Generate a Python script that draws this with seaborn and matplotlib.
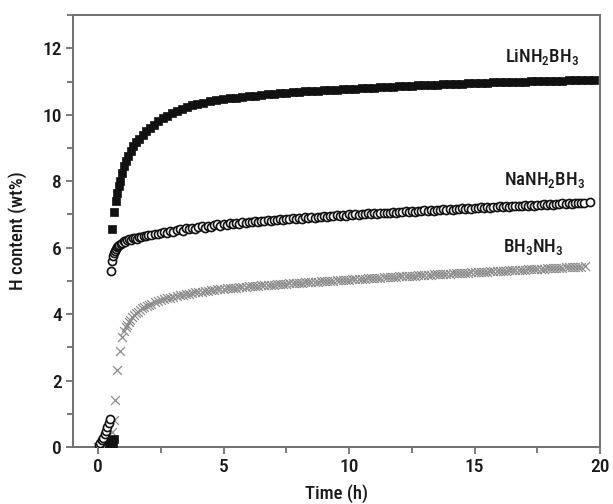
import matplotlib
matplotlib.use("Agg")
import matplotlib.pyplot as plt
from matplotlib.ticker import MultipleLocator
from matplotlib import font_manager
import seaborn as sns
import pandas as pd

# ---------------- data ----------------
li_time = [0.45, 0.50, 0.55, 0.60, 0.62,
           0.56, 0.64, 0.70, 0.76, 0.82, 0.88, 0.96, 1.04, 1.12, 1.20, 1.30, 1.40,
           1.52, 1.64, 1.78, 1.92, 2.06, 2.22, 2.40, 2.58, 2.76, 2.96, 3.16, 3.36,
           3.56, 3.76, 3.96, 4.20, 4.45, 4.70, 4.96, 5.25, 5.50, 5.75, 6.00, 6.25,
           6.50, 6.75, 7.00, 7.25, 7.50, 7.75, 8.00, 8.25, 8.50, 8.75, 9.00, 9.25,
           9.50, 9.75, 10.00, 10.25, 10.50, 10.75, 11.00, 11.25, 11.50, 11.75, 12.00,
           12.25, 12.50, 12.75, 13.00, 13.25, 13.50, 13.75, 14.00, 14.25, 14.50,
           14.75, 15.00, 15.25, 15.50, 15.75, 16.00, 16.25, 16.50, 16.75, 17.00,
           17.25, 17.50, 17.75, 18.00, 18.25, 18.50, 18.75, 19.00, 19.25, 19.50,
           19.75]
li_h = [0.05, 0.12, 0.20, 0.10, 0.25,
        6.55, 7.08, 7.40, 7.65, 7.85, 8.00, 8.25, 8.45, 8.62, 8.76, 8.92, 9.05,
        9.17, 9.27, 9.40, 9.50, 9.60, 9.70, 9.80, 9.89, 9.97, 10.05, 10.12, 10.18,
        10.24, 10.29, 10.33, 10.37, 10.41, 10.44, 10.47, 10.50, 10.52, 10.54, 10.56,
        10.58, 10.60, 10.62, 10.64, 10.65, 10.67, 10.68, 10.70, 10.71, 10.72, 10.73,
        10.74, 10.75, 10.76, 10.77, 10.78, 10.79, 10.80, 10.81, 10.82, 10.83, 10.84,
        10.85, 10.86, 10.87, 10.88, 10.89, 10.90, 10.91, 10.91, 10.92, 10.93, 10.94,
        10.94, 10.95, 10.96, 10.96, 10.97, 10.98, 10.98, 10.99, 10.99, 11.00, 11.00,
        11.01, 11.01, 11.02, 11.02, 11.03, 11.03, 11.04, 11.04, 11.05, 11.05, 11.06]

na_time = [0.02, 0.08, 0.14, 0.20, 0.26, 0.32, 0.37, 0.42, 0.46,
           0.50, 0.54, 0.58, 0.62, 0.66, 0.70, 0.75, 0.80, 0.85, 0.90,
           0.96, 1.02, 1.08, 1.15, 1.22, 1.30, 1.38, 1.46, 1.55, 1.64,
           1.73, 1.82, 1.91, 2.00, 2.125, 2.25, 2.375, 2.50, 2.625, 2.75,
           2.875, 3.00, 3.125, 3.25, 3.375, 3.50, 3.625, 3.75, 3.875, 4.00,
           4.125, 4.25, 4.375, 4.50, 4.625, 4.75, 4.875, 5.00, 5.125, 5.25,
           5.375, 5.50, 5.625, 5.75, 5.875, 6.00, 6.125, 6.25, 6.375, 6.50,
           6.625, 6.75, 6.875, 7.00, 7.125, 7.25, 7.375, 7.50, 7.625, 7.75,
           7.875, 8.00, 8.125, 8.25, 8.375, 8.50, 8.625, 8.75, 8.875, 9.00,
           9.125, 9.25, 9.375, 9.50, 9.625, 9.75, 9.875, 10.00, 10.125, 10.25,
           10.375, 10.50, 10.625, 10.75, 10.875, 11.00, 11.125, 11.25, 11.375, 11.50,
           11.625, 11.75, 11.875, 12.00, 12.125, 12.25, 12.375, 12.50, 12.625, 12.75,
           12.875, 13.00, 13.125, 13.25, 13.375, 13.50, 13.625, 13.75, 13.875, 14.00,
           14.125, 14.25, 14.375, 14.50, 14.625, 14.75, 14.875, 15.00, 15.125, 15.25,
           15.375, 15.50, 15.625, 15.75, 15.875, 16.00, 16.125, 16.25, 16.375, 16.50,
           16.625, 16.75, 16.875, 17.00, 17.125, 17.25, 17.375, 17.50, 17.625, 17.75,
           17.875, 18.00, 18.125, 18.25, 18.375, 18.50, 18.625, 18.75, 18.875, 19.00,
           19.125, 19.25, 19.375, 19.60]
na_h = [0.05, 0.12, 0.20, 0.28, 0.38, 0.48, 0.60, 0.72, 0.85,
        5.30, 5.60, 5.74, 5.83, 5.90, 5.96, 6.01, 6.05, 6.09, 6.12,
        6.15, 6.19, 6.17, 6.23, 6.25, 6.22, 6.28, 6.30, 6.27, 6.33,
        6.31, 6.36, 6.34, 6.39, 6.37, 6.42, 6.40, 6.45, 6.47, 6.44,
        6.50, 6.48, 6.53, 6.55, 6.51, 6.58, 6.56, 6.60, 6.57, 6.62,
        6.64, 6.60, 6.66, 6.63, 6.68, 6.70, 6.65, 6.71, 6.69, 6.73,
        6.71, 6.75, 6.72, 6.77, 6.74, 6.78, 6.76, 6.80, 6.77, 6.81,
        6.79, 6.83, 6.80, 6.84, 6.82, 6.86, 6.83, 6.87, 6.85, 6.88,
        6.86, 6.90, 6.87, 6.91, 6.89, 6.92, 6.90, 6.93, 6.91, 6.95,
        6.93, 6.96, 6.94, 6.97, 6.95, 6.99, 6.96, 7.00, 6.98, 7.01,
        6.99, 7.02, 7.00, 7.03, 7.01, 7.04, 7.02, 7.05, 7.03, 7.05,
        7.04, 7.07, 7.05, 7.08, 7.06, 7.09, 7.07, 7.10, 7.08, 7.11,
        7.09, 7.12, 7.10, 7.13, 7.11, 7.14, 7.12, 7.15, 7.13, 7.16,
        7.14, 7.17, 7.15, 7.18, 7.16, 7.19, 7.17, 7.20, 7.18, 7.21,
        7.19, 7.22, 7.20, 7.23, 7.21, 7.24, 7.22, 7.25, 7.23, 7.26,
        7.24, 7.27, 7.25, 7.28, 7.26, 7.29, 7.27, 7.30, 7.28, 7.31,
        7.29, 7.32, 7.30, 7.33, 7.31, 7.34, 7.32, 7.35, 7.33, 7.36,
        7.34, 7.36, 7.35, 7.37]

ab_time = [0.00, 0.15, 0.30, 0.45, 0.55, 0.62, 0.68, 0.76, 0.88, 0.96,
           1.04, 1.10, 1.16, 1.22, 1.28, 1.35, 1.42, 1.50, 1.58, 1.66,
           1.75, 1.84, 1.93, 2.02, 2.125, 2.25, 2.375, 2.50, 2.625, 2.75,
           2.875, 3.00, 3.125, 3.25, 3.375, 3.50, 3.625, 3.75, 3.875, 4.00,
           4.125, 4.25, 4.375, 4.50, 4.625, 4.75, 4.875, 5.00, 5.125, 5.25,
           5.375, 5.50, 5.625, 5.75, 5.875, 6.00, 6.125, 6.25, 6.375, 6.50,
           6.625, 6.75, 6.875, 7.00, 7.125, 7.25, 7.375, 7.50, 7.625, 7.75,
           7.875, 8.00, 8.125, 8.25, 8.375, 8.50, 8.625, 8.75, 8.875, 9.00,
           9.125, 9.25, 9.375, 9.50, 9.625, 9.75, 9.875, 10.00, 10.125, 10.25,
           10.375, 10.50, 10.625, 10.75, 10.875, 11.00, 11.125, 11.25, 11.375, 11.50,
           11.625, 11.75, 11.875, 12.00, 12.125, 12.25, 12.375, 12.50, 12.625, 12.75,
           12.875, 13.00, 13.125, 13.25, 13.375, 13.50, 13.625, 13.75, 13.875, 14.00,
           14.125, 14.25, 14.375, 14.50, 14.625, 14.75, 14.875, 15.00, 15.125, 15.25,
           15.375, 15.50, 15.625, 15.75, 15.875, 16.00, 16.125, 16.25, 16.375, 16.50,
           16.625, 16.75, 16.875, 17.00, 17.125, 17.25, 17.375, 17.50, 17.625, 17.75,
           17.875, 18.00, 18.125, 18.25, 18.375, 18.50, 18.625, 18.75, 18.875, 19.00,
           19.125, 19.25, 19.40]
ab_h = [0.00, 0.05, 0.10, 0.20, 0.45, 0.80, 1.42, 2.32, 2.90, 3.30,
        3.48, 3.60, 3.68, 3.76, 3.83, 3.90, 3.96, 4.02, 4.07, 4.12,
        4.17, 4.21, 4.25, 4.29, 4.32, 4.36, 4.39, 4.42, 4.45, 4.48,
        4.50, 4.53, 4.55, 4.57, 4.59, 4.61, 4.62, 4.64, 4.66, 4.67,
        4.68, 4.70, 4.71, 4.72, 4.73, 4.75, 4.76, 4.77, 4.78, 4.79,
        4.80, 4.80, 4.81, 4.82, 4.83, 4.84, 4.84, 4.85, 4.86, 4.87,
        4.87, 4.88, 4.89, 4.89, 4.90, 4.91, 4.91, 4.92, 4.93, 4.93,
        4.94, 4.95, 4.95, 4.96, 4.97, 4.97, 4.98, 4.98, 4.99, 5.00,
        5.00, 5.01, 5.01, 5.02, 5.03, 5.03, 5.04, 5.04, 5.05, 5.06,
        5.06, 5.07, 5.07, 5.08, 5.08, 5.09, 5.10, 5.10, 5.11, 5.11,
        5.12, 5.12, 5.13, 5.14, 5.14, 5.15, 5.15, 5.16, 5.16, 5.17,
        5.17, 5.18, 5.19, 5.19, 5.20, 5.20, 5.21, 5.21, 5.22, 5.22,
        5.23, 5.23, 5.24, 5.24, 5.25, 5.25, 5.26, 5.26, 5.27, 5.27,
        5.28, 5.28, 5.29, 5.29, 5.30, 5.30, 5.31, 5.31, 5.32, 5.32,
        5.33, 5.33, 5.34, 5.34, 5.35, 5.35, 5.36, 5.36, 5.37, 5.37,
        5.38, 5.38, 5.39, 5.39, 5.40, 5.40, 5.41, 5.41, 5.42, 5.42,
        5.43, 5.43, 5.44]

labels = ["LiNH$_2$BH$_3$", "NaNH$_2$BH$_3$", "BH$_3$NH$_3$"]
label_pos = [(17.7, 11.6), (17.8, 7.9), (17.35, 5.88)]

x_ticks = [0, 5, 10, 15, 20]
y_ticks = [0, 2, 4, 6, 8, 10, 12]

# ---------------- style ----------------
sns.set_theme(style="ticks")
avail = {f.name for f in font_manager.fontManager.ttflist}
cands = ["Roboto Condensed", "Liberation Sans Narrow", "Open Sans Condensed",
         "Roboto", "Liberation Sans", "DejaVu Sans"]
FONT = [c for c in cands if c in avail] or ["DejaVu Sans"]
plt.rcParams["font.family"] = FONT
plt.rcParams["font.weight"] = "medium"
plt.rcParams["mathtext.fontset"] = "custom"
plt.rcParams["mathtext.rm"] = FONT[0] + ":medium"
plt.rcParams["mathtext.default"] = "regular"

fig = plt.figure(figsize=(6.13, 5.04), dpi=100)
ax = fig.add_axes([0.119, 0.113, 0.860, 0.857])

df_li = pd.DataFrame({"t": li_time, "h": li_h})
df_na = pd.DataFrame({"t": na_time, "h": na_h})
df_ab = pd.DataFrame({"t": ab_time, "h": ab_h})

sns.scatterplot(data=df_ab, x="t", y="h", marker="x", color="#8c8c8c",
                s=40, linewidth=0.9, ax=ax, zorder=3)
sns.scatterplot(data=df_na, x="t", y="h", marker="o", color="white",
                edgecolor="#111111", s=34, linewidth=1.2, ax=ax, zorder=4)
sns.scatterplot(data=df_li, x="t", y="h", marker="s", color="#111111",
                edgecolor="#111111", s=40, linewidth=0.5, ax=ax, zorder=5)

for txt, (x, y) in zip(labels, label_pos):
    ax.text(x, y, txt, ha="center", va="baseline", fontsize=13.5,
            color="#1a1a1a", fontweight="medium")

ax.set_xlim(-1, 20)
ax.set_ylim(0, 13)
ax.set_xticks(x_ticks)
ax.set_yticks(y_ticks)
ax.xaxis.set_minor_locator(MultipleLocator(2.5))
ax.yaxis.set_minor_locator(MultipleLocator(1))
ax.set_xlabel("Time (h)", fontsize=13.5, labelpad=6, color="#1a1a1a",
              fontweight="medium")
ax.set_ylabel("H content (wt%)", fontsize=13.5, labelpad=11, color="#1a1a1a",
              fontweight="medium")

spine_c = "#707070"
for s in ax.spines.values():
    s.set_visible(True)
    s.set_color(spine_c)
    s.set_linewidth(1.4)
ax.tick_params(which="major", direction="out", length=5, width=1.3,
               color=spine_c, labelsize=14, labelcolor="#1a1a1a", pad=3)
ax.tick_params(which="minor", direction="out", length=4, width=1.3, color=spine_c)
ax.tick_params(top=False, right=False, which="both")

fig.savefig("out.png", dpi=100)
